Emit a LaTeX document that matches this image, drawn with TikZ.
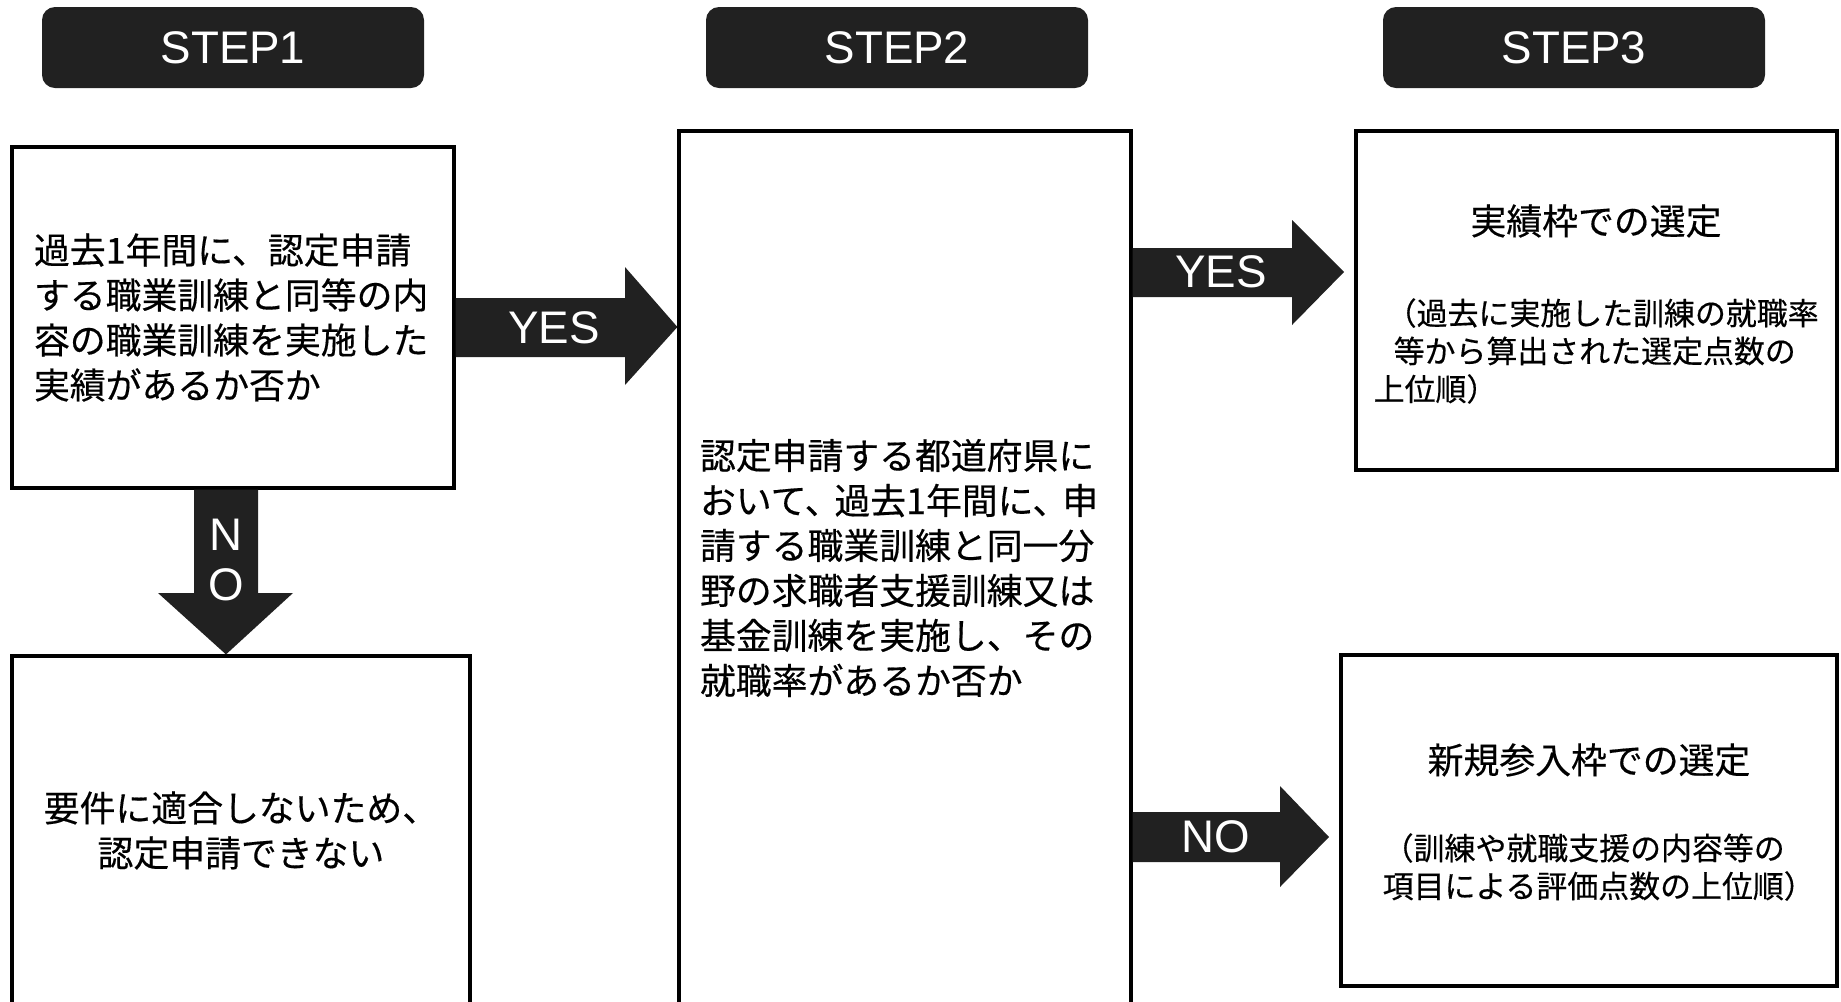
\documentclass[tikz,border=0pt]{standalone}
\usepackage{fontspec}
\setmainfont{Liberation Sans}
\newfontfamily\jpfont{Noto Sans CJK JP}[FakeBold=0.4]
\usetikzlibrary{positioning}
\definecolor{darkfill}{rgb}{0.13, 0.13, 0.13}

\tikzset{
  steplabel/.style={fill=darkfill, rounded corners=0.13cm, text=white, minimum width=3.82cm, minimum height=0.81cm, font=\fontsize{13pt}{15pt}\selectfont},
  askbox/.style={draw, line width=0.9pt, inner ysep=0pt},
  jptext/.style={font=\jpfont\fontsize{10.2pt}{12.8pt}\selectfont},
  jpsmall/.style={font=\jpfont\fontsize{8.8pt}{10.8pt}\selectfont, align=left, inner sep=0pt},
  fatarrow/.style={fill=darkfill},
  arrowlabel/.style={text=white, font=\fontsize{13pt}{14.5pt}\selectfont, inner sep=0pt}
}

\begin{document}
\begin{tikzpicture}
  \useasboundingbox (0,0) rectangle (18.41,-10.01);

  % step headers
  \node[steplabel] (step1) at (2.33,-0.475) {STEP1};
  \node[steplabel] (step2) at (8.97,-0.475) {STEP2};
  \node[steplabel] (step3) at (15.74,-0.475) {STEP3};

  % boxes
  \node[askbox, jptext, align=left, minimum width=4.42cm, minimum height=3.41cm, text width=3.98cm, inner xsep=0.22cm] (q1) at (2.33,-3.175)
    {過去1年間に、認定申請\\する職業訓練と同等の内\\容の職業訓練を実施した\\実績があるか否か};
  \node[askbox, jptext, align=center, minimum width=4.58cm, minimum height=3.49cm] (ng) at (2.41,-8.305)
    {要件に適合しないため、\\認定申請できない};
  \node[askbox, jptext, align=left, minimum width=4.52cm, minimum height=8.74cm, text width=4.10cm, inner xsep=0.21cm] (q2) at (9.05,-5.68)
    {認定申請する都道府県に\\おいて、\kern-0.17em 過去1年間に、\kern-0.17em 申\\請する職業訓練と同一分\\野の求職者支援訓練又は\\基金訓練を実施し、その\\就職率があるか否か};
  \node[askbox, minimum width=4.81cm, minimum height=3.39cm] (r1) at (15.965,-3.005) {};
  \node[askbox, minimum width=4.96cm, minimum height=3.31cm] (r2) at (15.89,-8.205) {};

  % results text
  \node[jptext, inner sep=0pt] (r1title) at (15.96,-2.21) {実績枠での選定};
  \node[jpsmall, anchor=west] (r1note) at (13.73,-3.51)
    {\hspace{0.12cm}（過去に実施した訓練の就職率\\\hspace{0.2cm}等から算出された選定点数の\\上位順）};
  \node[jptext, inner sep=0pt] (r2title) at (15.89,-7.60) {新規参入枠での選定};
  \node[jpsmall, anchor=west] (r2note) at (13.82,-8.67)
    {（訓練や就職支援の内容等の\\項目による評価点数の上位順）};

  % block arrows
  \fill[fatarrow] (q1.east |- 0,-2.98) -- (6.25,-2.98) -- (6.25,-2.67) -- (q2.west |- 0,-3.27)
    -- (6.25,-3.85) -- (6.25,-3.57) -- (q1.east |- 0,-3.57) -- cycle;
  \fill[fatarrow] (q1.south -| 1.94,0) -- (1.94,-5.93) -- (1.58,-5.93) -- (ng.north -| 2.26,0)
    -- (2.93,-5.93) -- (2.58,-5.93) -- (q1.south -| 2.58,0) -- cycle;
  \fill[fatarrow] (q2.east |- 0,-2.48) -- (12.92,-2.48) -- (12.92,-2.20) -- (13.44,-2.72)
    -- (12.92,-3.25) -- (12.92,-2.97) -- (q2.east |- 0,-2.97) -- cycle;
  \fill[fatarrow] (q2.east |- 0,-8.12) -- (12.80,-8.12) -- (12.80,-7.86) -- (13.29,-8.37)
    -- (12.80,-8.87) -- (12.80,-8.62) -- (q2.east |- 0,-8.62) -- cycle;

  \node[arrowlabel] (yes1) at (5.54,-3.28) {YES};
  \node[arrowlabel, align=center] (no1) at (2.26,-5.6) {N\\O};
  \node[arrowlabel] (yes2) at (12.21,-2.72) {YES};
  \node[arrowlabel] (no2) at (12.16,-8.37) {NO};
\end{tikzpicture}
\end{document}
